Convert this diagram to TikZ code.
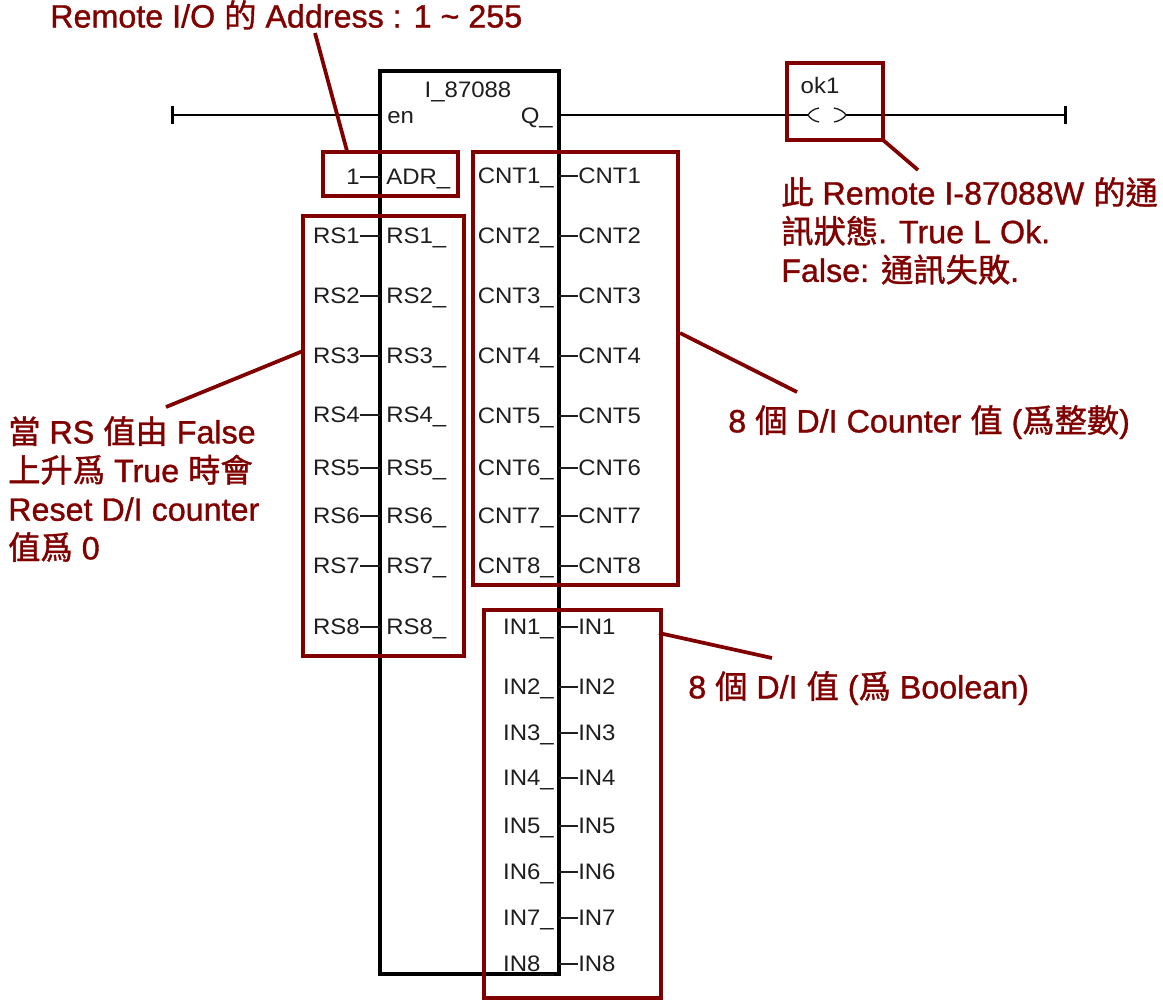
\documentclass[tikz,border=0pt]{standalone}
\usepackage{fontspec}
\setmainfont[FakeBold=1]{Liberation Sans}
\newfontfamily\pinfont[FakeStretch=1.07]{Liberation Sans}
\newfontfamily\cjkfont[FakeBold=1.2]{Noto Sans CJK TC}
\newcommand{\zh}[1]{{\cjkfont #1}}
\usepackage{tikz}
\usetikzlibrary{arrows.meta, fit, calc}
\definecolor{noteboxred}{RGB}{128,0,0}
\definecolor{pinblack}{RGB}{30,30,30}
\tikzset{
  blockbox/.style={rectangle, draw=black, line width=3pt, inner sep=0pt, outer sep=0pt,
    minimum width=134.25pt, minimum height=677.25pt},
  pinlabel/.style={inner sep=0pt, text=pinblack, text height=11.5pt, text depth=0pt,
    font=\pinfont\fontsize{16.8}{18}\selectfont},
  wire/.style={draw=black, line width=1.4pt},
  stub/.style={draw=pinblack, line width=1.1pt},
  redbox/.style={rectangle, draw=noteboxred, line width=3pt, inner sep=0pt, outer sep=0pt},
  leader/.style={draw=noteboxred, line width=2.8pt},
  notetext/.style={inner sep=0pt, align=left, text=noteboxred, anchor=north west,
    font=\fontsize{24.2}{29}\selectfont}
}
\begin{document}
\begin{tikzpicture}[x=0.75pt, y=-0.75pt]
  \useasboundingbox (0,0) rectangle (1163,1004);

  % function block and rails
  \node[blockbox, anchor=north west] (block) at (380,71) {};
  \node[pinlabel] (blockname) at (468,90) {I\_87088};
  \node[pinlabel, anchor=west] (en) at (387,116) {en};
  \node[pinlabel, anchor=east] (q) at (553,116) {Q\_};
  \coordinate (railstart) at (171,115);
  \coordinate (railend) at (1067,115);
  \coordinate (coilin) at (808,115);
  \coordinate (coilout) at (846,115);
  \draw[wire, {Bar[width=13pt,line width=2.2pt]}-] (railstart) -- (block.west |- railstart);
  \draw[wire] (block.east |- railstart) -- (coilin);
  \draw[wire, -{Bar[width=13pt,line width=2.2pt]}] (coilout) -- (railend);
  \draw[stub, line width=1pt] (819,108) .. controls (813,109) and (810,112) .. (coilin)
        .. controls (810,118) and (813,121) .. (819,122);
  \draw[stub, line width=1pt] (834,108) .. controls (840,109) and (844,112) .. (coilout)
        .. controls (844,118) and (840,121) .. (834,122);
  \node[pinlabel] (okname) at (820,86) {ok1};

  % address input
  \node[pinlabel, anchor=east] (adrvalue) at (360,177) {1};
  \node[pinlabel, anchor=west] (adrpin) at (386,177) {ADR\_};
  \draw[stub] (adrvalue.east) -- (block.west |- adrvalue);

  % reset inputs
  \foreach \n/\y in {1/236,2/296,3/356,4/415,5/468,6/516,7/566,8/627} {
    \node[pinlabel, anchor=east] (rsvar\n) at (360,\y) {RS\n};
    \node[pinlabel, anchor=west] (rspin\n) at (386,\y) {RS\n\_};
    \draw[stub] (rsvar\n.east) -- (block.west |- rsvar\n);
  }
  % counter outputs
  \foreach \n/\y in {1/176,2/236,3/296,4/356,5/416,6/468,7/516,8/566} {
    \node[pinlabel, anchor=east] (cntpin\n) at (554,\y) {CNT\n\_};
    \node[pinlabel, anchor=west] (cntvar\n) at (578,\y) {CNT\n};
    \draw[stub] (block.east |- cntvar\n) -- (cntvar\n.west);
  }
  % digital outputs
  \foreach \n/\y in {1/627,2/687,3/733,4/778,5/826,6/872,7/918,8/964} {
    \node[pinlabel, anchor=east] (inpin\n) at (554,\y) {IN\n\_};
    \node[pinlabel, anchor=west] (invar\n) at (578,\y) {IN\n};
    \draw[stub] (block.east |- invar\n) -- (invar\n.west);
  }

  % red marks
  \node[redbox, fit={(323,152) (458,196)}] (adrbox) {};
  \node[redbox, fit={(303,216) (464,656)}] (rsbox) {};
  \node[redbox, fit={(473,152) (678,585)}] (cntbox) {};
  \node[redbox, fit={(484,610) (661,998)}] (inbox) {};
  \node[redbox, fit={(787,63) (883,140)}] (okbox) {};

  % notes
  \node[notetext] (adrnote) at (50,0) {Remote I/O \zh{的} Address : 1 \textasciitilde\ 255};
  \node[notetext] (oknote) at (781,177) {\zh{此} Remote I-87088W \zh{的通}\\
    \zh{訊狀態}. True L Ok.\\False: \zh{通訊失敗}.};
  \node[notetext] (rsnote) at (8,416) {\zh{當} RS \zh{值由} False\\
    \zh{上升爲} True \zh{時會}\\Reset D/I counter\\\zh{值爲} 0};
  \node[notetext] (cntnote) at (728,405) {8 \zh{個} D/I Counter \zh{值} (\zh{爲整數})};
  \node[notetext] (innote) at (688,671) {8 \zh{個} D/I \zh{值} (\zh{爲} Boolean)};

  % leaders
  \coordinate (adrtip) at (315,33);
  \coordinate (adrfoot) at (347,151);
  \coordinate (oktip) at (918,170);
  \coordinate (rstip) at (166,407);
  \coordinate (rsfoot) at (303,351);
  \coordinate (cnttip) at (797,392);
  \coordinate (cntfoot) at (680,333);
  \coordinate (intip) at (772,658);
  \coordinate (infoot) at (659,633);
  \draw[leader] (adrtip) -- (adrfoot);
  \draw[leader] (okbox.south east) -- (oktip);
  \draw[leader] (rstip) -- (rsfoot);
  \draw[leader] (cntfoot) -- (cnttip);
  \draw[leader] (infoot) -- (intip);
\end{tikzpicture}
\end{document}
